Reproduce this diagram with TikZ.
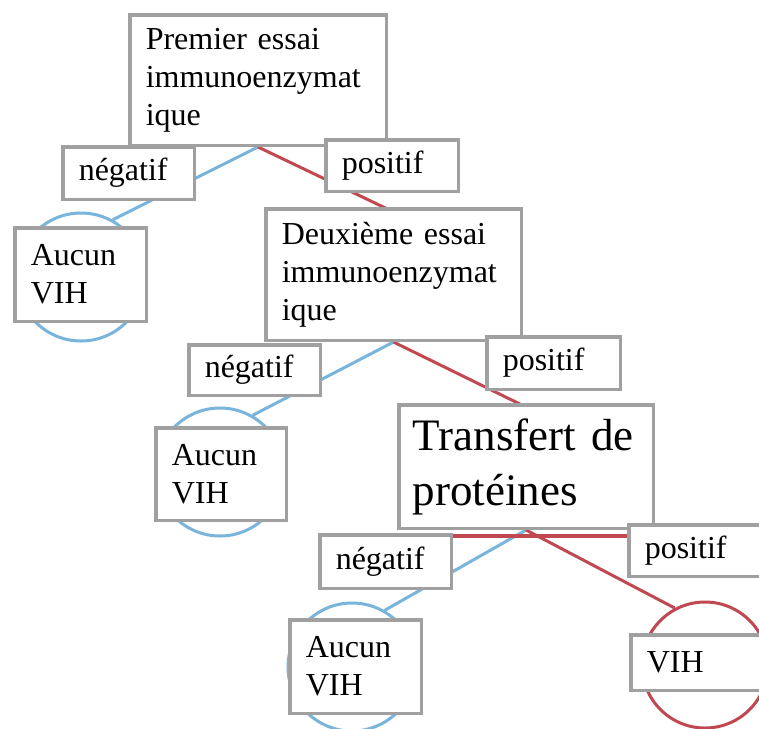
\documentclass[tikz,border=0pt]{standalone}
\usepackage{fontspec}
\setmainfont{Liberation Serif}
\definecolor{boxgray}{RGB}{160,160,160}
\definecolor{negblue}{RGB}{120,180,220}
\definecolor{posred}{RGB}{192,72,80}
\tikzset{
  box/.style={draw=boxgray, line width=3.5pt, fill=white, rectangle, inner xsep=16pt, inner ysep=0pt, align=left, font=\fontsize{32}{38}\selectfont},
  bigbox/.style={box, inner xsep=14pt, font=\fontsize{45}{55}\selectfont},
  ring/.style={circle, line width=3pt, minimum size=128pt, inner sep=0pt},
  negline/.style={draw=negblue, line width=3pt},
  posline/.style={draw=posred, line width=3pt}
}
\begin{document}
\begin{tikzpicture}[x=1pt, y=-1pt]
\useasboundingbox (0,0) rectangle (759,728);
\clip (0,0) rectangle (759,728);
\fill[white] (0,0) rectangle (759,728);

% circles
\node[ring, draw=negblue] (c1) at (81,277) {};
\node[ring, draw=negblue] (c2) at (220,472) {};
\node[ring, draw=negblue] (c3) at (352,667) {};
\node[ring, draw=posred, minimum size=126pt] (c4) at (705,665) {};

% hidden ends of the positive connectors
\coordinate (r1) at (400,215);
\coordinate (r2) at (530,409);

% positions of the main boxes
\coordinate (b1c) at (258,80);
\coordinate (b2c) at (393.5,274.5);
\coordinate (b3c) at (526,466.5);
\coordinate (b1s) at (258,147);
\coordinate (b2s) at (393.5,342);
\coordinate (b3s) at (526,530);

% connectors
\draw[negline] (b1s) -- (c1.61);
\draw[posline] (b1s) -- (r1);
\draw[negline] (b2s) -- (c2.60);
\draw[posline] (b2s) -- (r2);
\draw[negline] (b3s) -- (c3.60);
\draw[posline] (b3s) -- (c4.118);
\draw[posred, line width=4pt] (440,535.5) -- (640,535.5);

% main boxes
\node[box, minimum width=256.5pt, minimum height=130.5pt, text width=224.5pt] (p1) at (b1c) {Premier essai\\immunoenzymat\\ique};
\node[box, minimum width=255.5pt, minimum height=131.5pt, text width=223.5pt] (p2) at (b2c) {Deuxième essai\\immunoenzymat\\ique};
\node[bigbox, minimum width=254.5pt, minimum height=123.5pt, text width=226.5pt] (p3) at (b3c) {Transfert de\\protéines};

% outcome boxes
\node[box, minimum width=131.5pt, minimum height=93.5pt, text width=99.5pt] (a1) at (80.5,274.5) {Aucun\\VIH};
\node[box, minimum width=130.5pt, minimum height=92.5pt, text width=98.5pt] (a2) at (221,474) {Aucun\\VIH};
\node[box, minimum width=131.5pt, minimum height=93.5pt, text width=99.5pt] (a3) at (355.5,666.5) {Aucun\\VIH};
\node[box, minimum width=132.5pt, minimum height=55.5pt, text width=100.5pt] (v4) at (697,662.5) {VIH};

% labels
\node[box, minimum width=131.5pt, minimum height=52.5pt, text width=99.5pt] (n1) at (128.5,173) {négatif};
\node[box, minimum width=132.5pt, minimum height=51.5pt, text width=100.5pt] (q1) at (392,165.5) {positif};
\node[box, minimum width=131.5pt, minimum height=50.5pt, text width=99.5pt] (n2) at (254.5,370) {négatif};
\node[box, minimum width=133.5pt, minimum height=52.5pt, text width=101.5pt] (q2) at (553.5,363) {positif};
\node[box, minimum width=131.5pt, minimum height=53.5pt, text width=99.5pt] (n3) at (385.5,561.5) {négatif};
\node[box, minimum width=132.5pt, minimum height=51.5pt, text width=100.5pt] (q3) at (695,550.5) {positif};
\end{tikzpicture}
\end{document}
